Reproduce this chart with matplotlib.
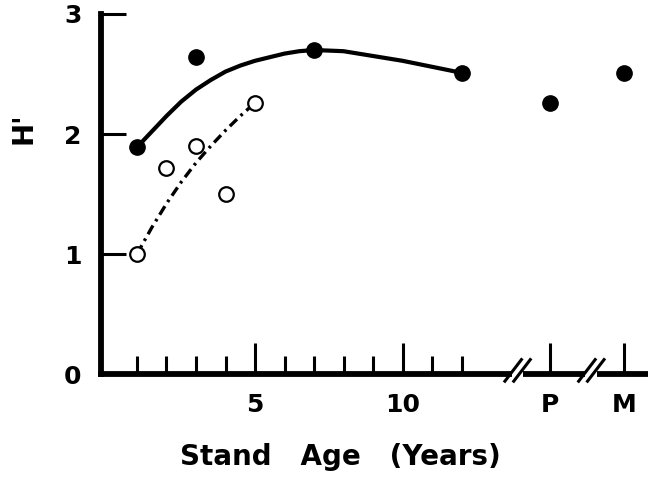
import matplotlib
matplotlib.use("Agg")
import matplotlib.pyplot as plt

plt.rcParams["font.family"] = ["DejaVu Sans"]
plt.rcParams["font.weight"] = "bold"

# stand age positions: years, then P (=15) and M (=17.5) after the axis breaks
filled_x = [1, 3, 7, 12, 15, 17.5]
filled_y = [1.89, 2.64, 2.70, 2.51, 2.26, 2.51]
open_x = [1, 2, 3, 4, 5]
open_y = [1.00, 1.72, 1.90, 1.50, 2.26]

# fitted curves
fit_solid_x = [1, 1.5, 2, 2.5, 3, 3.5, 4, 4.5, 5, 5.5, 6, 6.5, 7, 8, 9, 10, 11, 12]
fit_solid_y = [1.89, 2.02, 2.15, 2.27, 2.37, 2.45, 2.52, 2.57, 2.61, 2.64, 2.67,
               2.69, 2.70, 2.69, 2.65, 2.61, 2.56, 2.51]
fit_dash_x = [1, 1.5, 2, 2.5, 3, 3.5, 4, 4.5, 5]
fit_dash_y = [1.00, 1.22, 1.42, 1.60, 1.76, 1.90, 2.03, 2.15, 2.26]

minor_ticks = list(range(1, 13))
major_ticks = [5, 10, 15, 17.5]
major_labels = ["5", "10", "P", "M"]
break_at = [13.9, 16.4]

fig = plt.figure(figsize=(6.48, 4.8), dpi=100)
ax = fig.add_axes([101 / 648, 106 / 480, 547 / 648, 366 / 480])
ax.set_xlim(-0.22, 18.32)
ax.set_ylim(0, 3.05)

ax.plot(fit_solid_x, fit_solid_y, color="black", lw=3, zorder=2)
ax.plot(fit_dash_x, fit_dash_y, color="black", lw=2.4,
        linestyle=(0, (3.0, 1.5, 0.8, 1.5)), zorder=2)
ax.plot(filled_x, filled_y, "o", color="black", ms=11, zorder=3)
ax.plot(open_x, open_y, "o", mfc="white", mec="black", mew=1.6, ms=10.5, zorder=3)

for s in ["top", "right"]:
    ax.spines[s].set_visible(False)
ax.spines["left"].set_linewidth(4.2)
ax.spines["bottom"].set_linewidth(4.2)
ax.spines["left"].set_bounds(0, 3)
ax.spines["left"].set_capstyle("projecting")

ax.set_yticks([0, 1, 2, 3])
ax.set_yticklabels(["0", "1", "2", "3"])
ax.tick_params(axis="y", direction="in", length=18, width=2.2, pad=14, labelsize=18)
ax.set_xticks(major_ticks)
ax.set_xticklabels(major_labels)
ax.set_xticks(minor_ticks, minor=True)
ax.tick_params(axis="x", which="major", direction="in", length=22, width=2.2, pad=14, labelsize=18)
ax.tick_params(axis="x", which="minor", direction="in", length=13, width=2.2)
ax.yaxis.get_major_ticks()[0].tick1line.set_visible(False)

# axis breaks
for b in break_at:
    ax.plot([b - 0.2, b + 0.2], [0, 0], color="white", lw=6, clip_on=False, zorder=4,
            solid_capstyle="butt")
    for off in (-0.15, 0.15):
        ax.plot([b + off - 0.28, b + off + 0.28], [-0.06, 0.12], color="black", lw=2.2,
                clip_on=False, zorder=5)

ax.set_xlabel("Stand   Age   (Years)", fontsize=20, fontweight="bold")
ax.xaxis.set_label_coords((340 - 101) / 547, (374 - 457) / 366)
ax.xaxis.label.set_va("center")

ax.set_ylabel("H'", fontsize=20, fontweight="bold")
ax.yaxis.set_label_coords((24 - 101) / 547, (374 - 128) / 366)
ax.yaxis.label.set_va("center")

fig.savefig("out.png", dpi=100)
